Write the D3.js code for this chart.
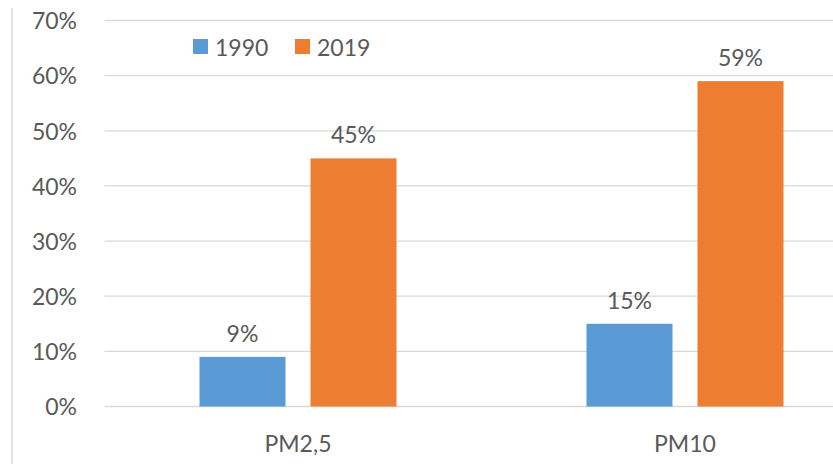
<!DOCTYPE html>
<html><head><meta charset="utf-8">
<script src="https://cdn.jsdelivr.net/npm/d3@7"></script>
<style>
html,body{margin:0;padding:0;background:#fff;}
svg text{font-family:Lato,"Liberation Sans",sans-serif;fill:#595959;}
</style></head>
<body>
<svg id="c" width="833" height="464"></svg>
<script>
const categories = ["PM2,5", "PM10"];
const seriesNames = ["1990", "2019"];
const values1990 = [9, 15];
const values2019 = [45, 59];
const yTicks = [0, 10, 20, 30, 40, 50, 60, 70];
const colors = ["#5b9bd5", "#ed7d31"];

const svg = d3.select("#c");
const W = 833, H = 464;
const left = 104.5, bandStep = 387;
const x0 = d3.scaleBand().domain(categories).range([left, left + bandStep * categories.length]).paddingInner(0).paddingOuter(0);
const y = d3.scaleLinear().domain([0, 70]).range([406.5, 20.5]);

// left border line
svg.append("line").attr("x1", 12).attr("x2", 12).attr("y1", 8).attr("y2", H)
  .attr("stroke", "#d9d9d9").attr("stroke-width", 1.5);

// grid
svg.append("g").selectAll("line").data(yTicks).join("line")
  .attr("x1", left).attr("x2", W)
  .attr("y1", d => y(d)).attr("y2", d => y(d))
  .attr("stroke", "#d9d9d9").attr("stroke-width", 1.3);

// y labels
const yAxis = d3.axisLeft(y).tickValues(yTicks).tickFormat(d => d + "%").tickSize(0).tickPadding(0);
const ya = svg.append("g").attr("transform", "translate(77,0)").call(yAxis);
ya.select(".domain").remove();
ya.selectAll("text").attr("font-size", 23).attr("fill", "#595959")
  .style("font-family", "Lato, 'Liberation Sans', sans-serif").attr("dy", "0.36em");

// bars
const barW = 86, gap = 25;
const series = [values1990, values2019];
const x1 = d3.scaleBand().domain(seriesNames).range([0, barW * 2 + gap]).paddingInner(gap / (barW + gap)).paddingOuter(0);
const groupOffset = (bandStep - (barW * 2 + gap)) / 2;

seriesNames.forEach((s, si) => {
  const g = svg.append("g");
  g.selectAll("rect").data(categories).join("rect")
    .attr("x", c => x0(c) + groupOffset + x1(s))
    .attr("width", x1.bandwidth())
    .attr("y", (c, i) => y(series[si][i]))
    .attr("height", (c, i) => y(0) - y(series[si][i]))
    .attr("fill", colors[si]);
  g.selectAll("text").data(categories).join("text")
    .attr("x", c => x0(c) + groupOffset + x1(s) + x1.bandwidth() / 2)
    .attr("y", (c, i) => y(series[si][i]) - 15)
    .attr("text-anchor", "middle").attr("font-size", 23)
    .text((c, i) => series[si][i] + "%");
});

// x labels
const xa = svg.append("g");
xa.selectAll("text").data(categories).join("text")
  .attr("x", c => x0(c) + x0.bandwidth() / 2)
  .attr("y", 452).attr("text-anchor", "middle").attr("font-size", 23)
  .text(c => c);

// legend
const legX = [193, 295];
const lg = svg.append("g");
seriesNames.forEach((s, i) => {
  lg.append("rect").attr("x", legX[i]).attr("y", 39).attr("width", 15).attr("height", 15).attr("fill", colors[i]);
  lg.append("text").attr("x", legX[i] + 22).attr("y", 55.5).attr("font-size", 23).text(s);
});
</script>
</body></html>
